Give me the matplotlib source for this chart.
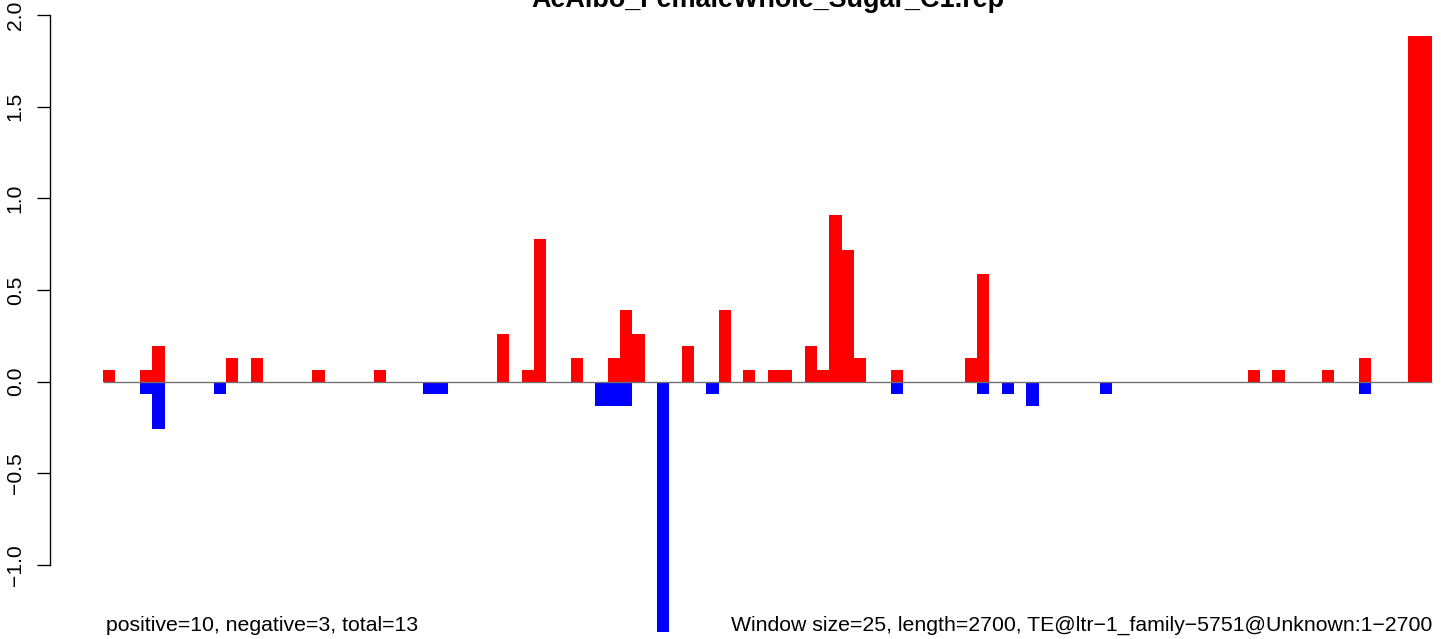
import numpy as np
import matplotlib
matplotlib.use('Agg')
import matplotlib.pyplot as plt

plt.rcParams['font.family'] = ['Liberation Sans', 'DejaVu Sans']

title = 'AeAlbo_FemaleWhole_Sugar_C1.rep'
left_note = 'positive=10, negative=3, total=13'
right_note = 'Window size=25, length=2700, TE@ltr\u22121_family\u22125751@Unknown:1\u22122700'

n_windows = 108  # 2700 / 25

# window index -> value
pos_idx = [0, 3, 4, 10, 12, 17, 22, 32, 34, 35, 38, 41, 42, 43, 47, 50, 52, 54, 55,
           57, 58, 59, 60, 61, 64, 70, 71, 93, 95, 99, 102, 106, 107]
pos_val = [0.065, 0.065, 0.195, 0.13, 0.13, 0.065, 0.065, 0.26, 0.065, 0.781, 0.13,
           0.13, 0.39, 0.26, 0.195, 0.39, 0.065, 0.065, 0.065, 0.195, 0.065, 0.911,
           0.716, 0.13, 0.065, 0.13, 0.586, 0.065, 0.065, 0.065, 0.13, 1.888, 1.888]
neg_idx = [3, 4, 9, 26, 27, 40, 41, 42, 45, 49, 64, 71, 73, 75, 81, 102]
neg_val = [-0.065, -0.26, -0.065, -0.065, -0.065, -0.13, -0.13, -0.13, -1.367,
           -0.065, -0.065, -0.065, -0.065, -0.13, -0.065, -0.065]

yticks = [-1.0, -0.5, 0.0, 0.5, 1.0, 1.5, 2.0]

pos = np.zeros(n_windows)
pos[pos_idx] = pos_val
neg = np.zeros(n_windows)
neg[neg_idx] = neg_val
x = np.arange(n_windows)

W, H, DPI = 1441, 639, 120
fig = plt.figure(figsize=(W / DPI, H / DPI), dpi=DPI)
ax = fig.add_axes([0, 0, 1, 1])

# pixel mapping: bars start at x=103px, 12.31px per window; y=0 at 381.7px, 183.3px per unit
px_w, x0 = 12.31, 103.0
py_u, y0 = 183.3, 381.7
ax.set_xlim(-x0 / px_w, (W - x0) / px_w)
ax.set_ylim(-(H - y0) / py_u, y0 / py_u)

ax.bar(x, pos, width=1, align='edge', color='#ff0000', linewidth=0, zorder=2)
ax.bar(x, neg, width=1, align='edge', color='#0000ff', linewidth=0, zorder=2)
ax.plot([0, n_windows], [0, 0], color='#6e6e6e', lw=0.8, zorder=3, solid_capstyle='butt')

for s in ['top', 'right', 'bottom']:
    ax.spines[s].set_visible(False)
ax.spines['left'].set_position(('data', (50.3 - x0) / px_w))
ax.spines['left'].set_bounds(-1.0, 2.0)
ax.spines['left'].set_linewidth(0.8)
ax.set_xticks([])
ax.set_yticks(yticks)
ax.set_yticklabels([f'{v:.1f}'.replace('-', '\u2212') for v in yticks],
                   rotation=90, va='center', fontsize=12.7)
ax.tick_params(axis='y', length=7.8, width=0.8, pad=7.5)

fig.text(768 / W, 1 - 7 / H, title, ha='center', va='baseline',
         fontsize=16.2, fontweight='bold')
fig.text(106 / W, 1 - 631 / H, left_note, ha='left', va='baseline', fontsize=12.75)
fig.text(1432 / W, 1 - 631 / H, right_note, ha='right', va='baseline', fontsize=12.75)

fig.savefig('out.png', dpi=DPI)
